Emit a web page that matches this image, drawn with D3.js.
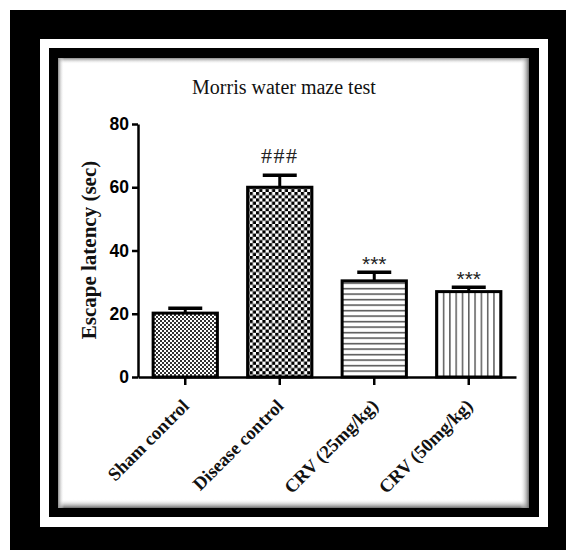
<!DOCTYPE html>
<html>
<head>
<meta charset="utf-8">
<script src="https://cdn.jsdelivr.net/npm/d3@7"></script>
<style>
  html, body { margin: 0; padding: 0; background: #fff; }
  svg { display: block; }
</style>
</head>
<body>
<script>
// ---- data ----
const categories = ["Sham control", "Disease control", "CRV (25mg/kg)", "CRV (50mg/kg)"];
const means = [20.2, 60.0, 30.4, 27.0];
const sems = [1.5, 3.8, 2.7, 1.4];
const significance = ["", "###", "***", "***"];
const patternIds = ["finecheck", "bigcheck", "hlines", "vlines"];
const yTicks = [0, 20, 40, 60, 80];
const title = "Morris water maze test";
const yLabel = "Escape latency (sec)";

const W = 566, H = 550;
const svg = d3.select("body").append("svg").attr("width", W).attr("height", H);
const defs = svg.append("defs");

// ---- frame ----
svg.append("rect").attr("x", 10).attr("y", 10).attr("width", 556).attr("height", 540).attr("fill", "#000");
svg.append("rect").attr("x", 40).attr("y", 39).attr("width", 508).attr("height", 488).attr("fill", "#fff");
svg.append("rect").attr("x", 49).attr("y", 48).attr("width", 490).attr("height", 469).attr("fill", "#000");
const ix0 = 58, iy0 = 58, ix1 = 529, iy1 = 508;
svg.append("rect").attr("x", ix0).attr("y", iy0).attr("width", ix1 - ix0).attr("height", iy1 - iy0).attr("fill", "#fff");

function grad(id, x1, y1, x2, y2, col) {
  const g = defs.append("linearGradient").attr("id", id)
    .attr("x1", x1).attr("y1", y1).attr("x2", x2).attr("y2", y2);
  g.append("stop").attr("offset", "0%").attr("stop-color", col).attr("stop-opacity", 1);
  g.append("stop").attr("offset", "100%").attr("stop-color", "#fff").attr("stop-opacity", 0);
}
grad("gTop", 0, 0, 0, 1, "#8a8a8a");
grad("gBot", 0, 1, 0, 0, "#6a6a6a");
grad("gLeft", 0, 0, 1, 0, "#8a8a8a");
grad("gRight", 1, 0, 0, 0, "#6a6a6a");
svg.append("rect").attr("x", ix0).attr("y", iy0).attr("width", ix1 - ix0).attr("height", 6).attr("fill", "url(#gTop)");
svg.append("rect").attr("x", ix0).attr("y", iy1 - 9).attr("width", ix1 - ix0).attr("height", 9).attr("fill", "url(#gBot)");
svg.append("rect").attr("x", ix0).attr("y", iy0).attr("width", 6).attr("height", iy1 - iy0).attr("fill", "url(#gLeft)");
svg.append("rect").attr("x", ix1 - 9).attr("y", iy0).attr("width", 9).attr("height", iy1 - iy0).attr("fill", "url(#gRight)");

// ---- patterns ----
let p = defs.append("pattern").attr("id", "finecheck").attr("patternUnits", "userSpaceOnUse")
  .attr("width", 4).attr("height", 4);
p.append("rect").attr("width", 4).attr("height", 4).attr("fill", "#fff");
p.append("rect").attr("x", 0).attr("y", 0).attr("width", 2).attr("height", 2).attr("fill", "#333");
p.append("rect").attr("x", 2).attr("y", 2).attr("width", 2).attr("height", 2).attr("fill", "#333");
const c = 3.2;
p = defs.append("pattern").attr("id", "bigcheck").attr("patternUnits", "userSpaceOnUse")
  .attr("width", 2 * c).attr("height", 2 * c);
p.append("rect").attr("width", 2 * c).attr("height", 2 * c).attr("fill", "#fff");
p.append("rect").attr("x", 0).attr("y", 0).attr("width", c).attr("height", c).attr("fill", "#000");
p.append("rect").attr("x", c).attr("y", c).attr("width", c).attr("height", c).attr("fill", "#000");
p = defs.append("pattern").attr("id", "hlines").attr("patternUnits", "userSpaceOnUse")
  .attr("width", 10).attr("height", 5.5);
p.append("rect").attr("width", 10).attr("height", 5.5).attr("fill", "#fff");
p.append("rect").attr("x", 0).attr("y", 2).attr("width", 10).attr("height", 1.3).attr("fill", "#333");
p = defs.append("pattern").attr("id", "vlines").attr("patternUnits", "userSpaceOnUse")
  .attr("width", 6.3).attr("height", 10);
p.append("rect").attr("width", 6.3).attr("height", 10).attr("fill", "#fff");
p.append("rect").attr("x", 2).attr("y", 0).attr("width", 1.2).attr("height", 10).attr("fill", "#333");

// ---- scales ----
const x = d3.scaleBand().domain(categories).range([138, 516]).paddingInner(0.32).paddingOuter(0.16);
const y = d3.scaleLinear().domain([0, 80]).range([377, 124]);

// ---- title ----
svg.append("text").attr("x", 284).attr("y", 94).attr("text-anchor", "middle")
  .attr("font-family", "Liberation Serif, Times New Roman, serif").attr("font-size", 20)
  .attr("fill", "#111").text(title);

// ---- bars ----
const data = categories.map((k, i) => ({ k, m: means[i], e: sems[i], s: significance[i], p: patternIds[i] }));
const g = svg.append("g");
g.selectAll("rect.bar").data(data).join("rect").attr("class", "bar")
  .attr("x", d => x(d.k)).attr("y", d => y(d.m))
  .attr("width", x.bandwidth()).attr("height", d => y(0) - y(d.m))
  .attr("fill", d => `url(#${d.p})`).attr("stroke", "#000").attr("stroke-width", 3);

g.selectAll("line.stem").data(data).join("line").attr("class", "stem")
  .attr("x1", d => x(d.k) + x.bandwidth() / 2).attr("x2", d => x(d.k) + x.bandwidth() / 2)
  .attr("y1", d => y(d.m)).attr("y2", d => y(d.m + d.e))
  .attr("stroke", "#000").attr("stroke-width", 3);
g.selectAll("line.cap").data(data).join("line").attr("class", "cap")
  .attr("x1", d => x(d.k) + x.bandwidth() / 2 - 17).attr("x2", d => x(d.k) + x.bandwidth() / 2 + 17)
  .attr("y1", d => y(d.m + d.e)).attr("y2", d => y(d.m + d.e))
  .attr("stroke", "#000").attr("stroke-width", 3.5);

g.selectAll("text.sig").data(data.filter(d => d.s)).join("text").attr("class", "sig")
  .attr("x", d => x(d.k) + x.bandwidth() / 2)
  .attr("y", d => y(d.m + d.e) - (d.s === "###" ? 12 : 9))
  .attr("text-anchor", "middle")
  .attr("font-family", d => d.s === "###" ? "Liberation Serif, serif" : "Liberation Sans, Arial, sans-serif")
  .attr("font-size", d => d.s === "###" ? 22 : 21)
  .attr("letter-spacing", d => d.s === "###" ? 1.5 : 0)
  .attr("dy", d => d.s === "###" ? 0 : 8)
  .attr("fill", "#222").text(d => d.s);

// ---- axes ----
const yAxis = svg.append("g").attr("transform", "translate(138,0)")
  .call(d3.axisLeft(y).tickValues(yTicks).tickSize(6).tickSizeOuter(0).tickPadding(3));
yAxis.selectAll("path.domain").attr("stroke", "#000").attr("stroke-width", 2.5);
yAxis.selectAll(".tick line").attr("stroke", "#000").attr("stroke-width", 2.5);
yAxis.selectAll(".tick text").attr("font-family", "Liberation Sans, Arial, sans-serif")
  .attr("font-weight", "bold").attr("font-size", 17.5).attr("fill", "#000");

const xAxis = svg.append("g").attr("transform", "translate(0,377)")
  .call(d3.axisBottom(x).tickSize(8).tickSizeOuter(0));
xAxis.selectAll("path.domain").attr("stroke", "#000").attr("stroke-width", 2.5);
xAxis.selectAll(".tick line").attr("stroke", "#000").attr("stroke-width", 2.5);
xAxis.selectAll(".tick text")
  .attr("x", 0).attr("y", 0).attr("dy", 0)
  .attr("text-anchor", "end")
  .attr("transform", "translate(5,30) rotate(-45)")
  .attr("font-family", "Liberation Serif, Times New Roman, serif")
  .attr("font-weight", "bold").attr("font-size", 18.5).attr("fill", "#111");

// ---- y label ----
svg.append("text").attr("transform", "translate(96,250) rotate(-90)")
  .attr("text-anchor", "middle")
  .attr("font-family", "Liberation Serif, Times New Roman, serif")
  .attr("font-weight", "bold").attr("font-size", 21).attr("fill", "#111")
  .text(yLabel);
</script>
</body>
</html>
